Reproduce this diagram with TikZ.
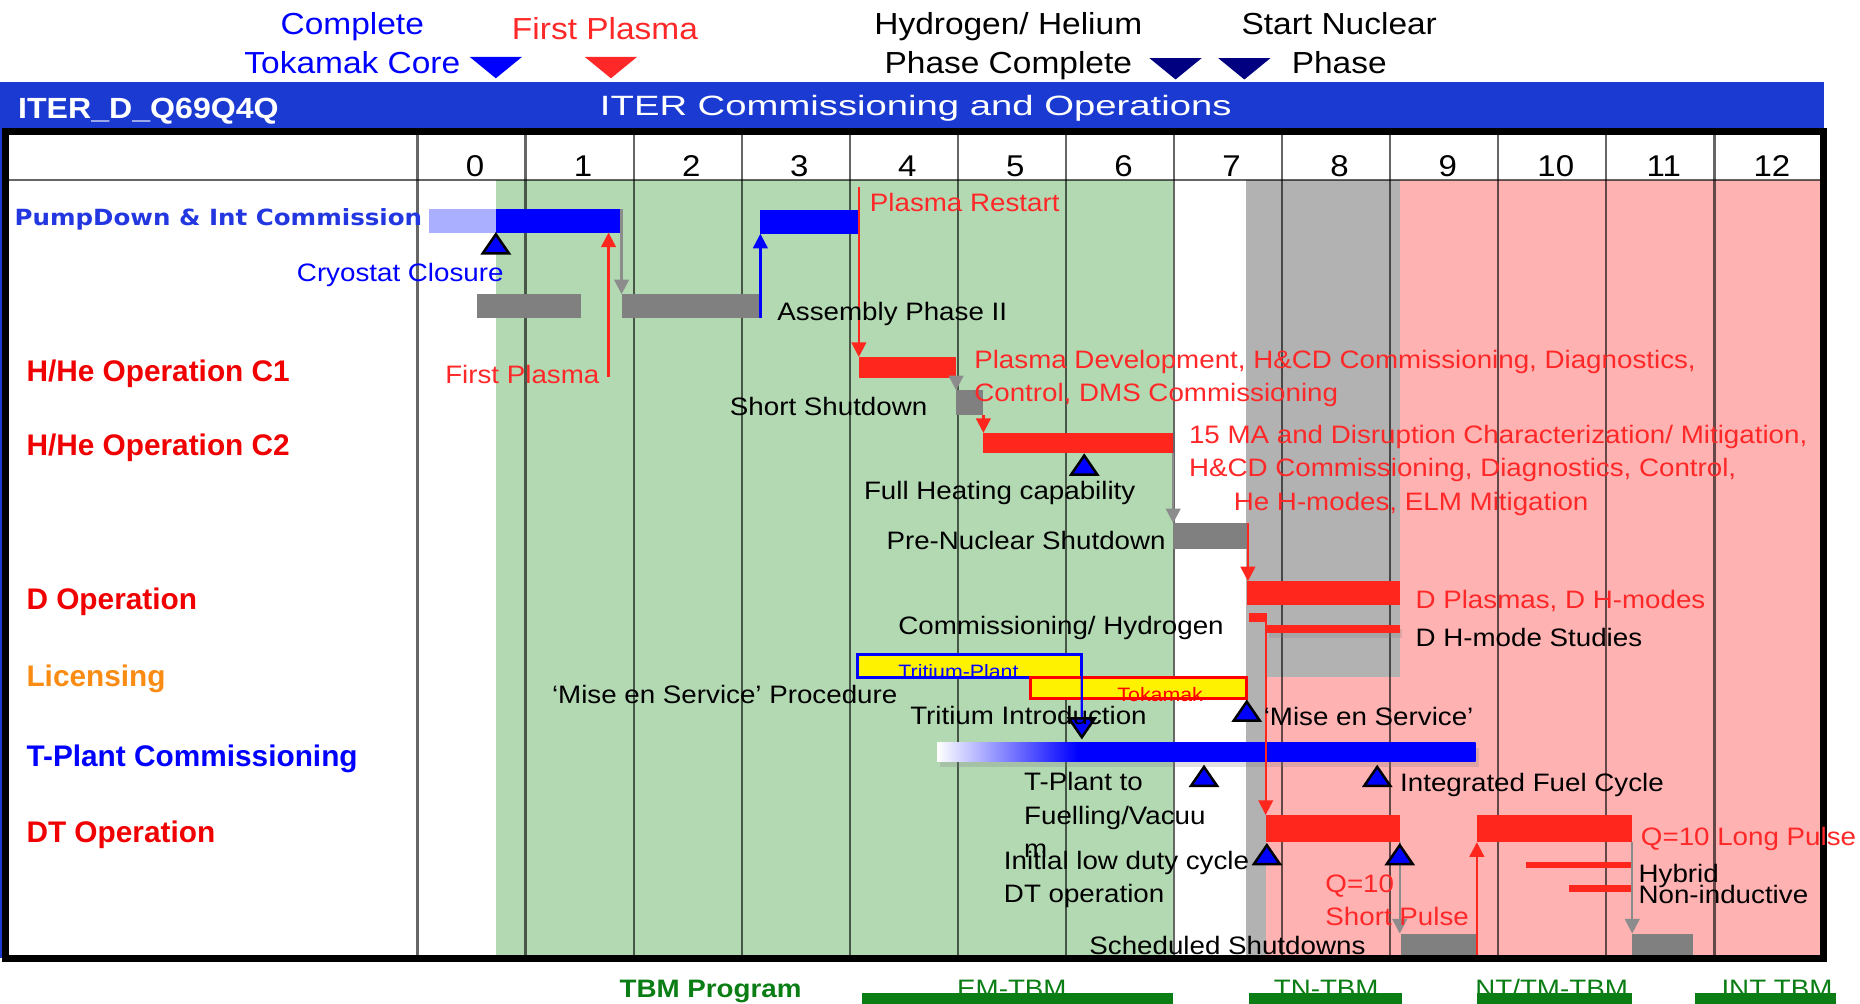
\documentclass[tikz,border=0pt]{standalone}
\usepackage{fontspec}
\setmainfont{Liberation Sans}[FakeStretch=1.1]
\newfontfamily\rowfont{Liberation Sans}
\newfontfamily\widefont{DejaVu Sans}[FakeStretch=1.1]
\newfontfamily\titlefont{Liberation Sans}[FakeStretch=1.37]
\usetikzlibrary{arrows.meta, fit, shadows}

\definecolor{hdrblue}{RGB}{27,58,210}
\definecolor{tblue}{RGB}{0,0,255}
\definecolor{pdblue}{RGB}{35,55,225}
\definecolor{paleblue}{RGB}{170,176,255}
\definecolor{barred}{RGB}{255,38,30}
\definecolor{txtred}{RGB}{255,40,40}
\definecolor{rowred}{RGB}{240,0,0}
\definecolor{licorange}{RGB}{250,140,20}
\definecolor{tbmgreen}{RGB}{10,125,20}
\definecolor{mknavy}{RGB}{0,0,128}
\definecolor{hhgreen}{RGB}{179,217,179}
\definecolor{bggray}{RGB}{178,178,178}
\definecolor{ntpink}{RGB}{255,178,178}
\definecolor{sdgray}{RGB}{128,128,128}
\definecolor{arrgray}{RGB}{140,140,140}

% white-to-blue ramp on the left quarter of the T-plant bar
\pgfdeclarehorizontalshading{tplant}{100bp}{color(0bp)=(white); color(25bp)=(white);
  color(38bp)=(tblue); color(100bp)=(tblue)}

% milestone triangles around a named coordinate
\newcommand{\msup}[1]{%
  \filldraw[mstone] ([shift={(-11,8)}]#1) -- ([shift={(0,-8)}]#1) -- ([shift={(11,8)}]#1) -- cycle;}
\newcommand{\msdown}[1]{%
  \filldraw[mstone] ([shift={(-11,-8)}]#1) -- ([shift={(0,8)}]#1) -- ([shift={(11,-8)}]#1) -- cycle;}
\newcommand{\hdmark}[2]{%
  \fill[#2] ([shift={(-22,-9)}]#1) -- ([shift={(22,-9)}]#1) -- ([shift={(0,9)}]#1) -- cycle;}

\begin{document}
\begin{tikzpicture}[
    x=0.02cm, y=-0.02cm,
    bar/.style={inner sep=0pt, outer sep=0pt, draw=none},
    tbox/.style={inner sep=0pt, outer sep=0pt, fill=yellow, line width=1.3pt},
    lbl/.style={inner sep=0pt, anchor=base west, font=\fontsize{12.1}{16}\selectfont},
    mlbl/.style={inner sep=0pt, anchor=north west, align=left, font=\fontsize{12.1}{16}\selectfont},
    toplbl/.style={inner sep=0pt, align=center, font=\fontsize{14.6}{18.7}\selectfont},
    rowlbl/.style={inner sep=0pt, anchor=base west, font=\rowfont\bfseries\fontsize{14.3}{17}\selectfont},
    tag/.style={inner sep=0pt, anchor=base, font=\fontsize{9.3}{11}\selectfont},
    yr/.style={inner sep=0pt, anchor=base, font=\fontsize{14.4}{17}\selectfont},
    yearline/.style={black, opacity=0.6, line width=1.1pt},
    garr/.style={-{Triangle[length=7pt,width=7pt]}, line width=1.1pt, arrgray},
    rarr/.style={-{Triangle[length=7pt,width=7pt]}, line width=1.1pt, barred},
    barr/.style={-{Triangle[length=7pt,width=7pt]}, line width=1.1pt, tblue},
    mstone/.style={fill=tblue, draw=black, line width=1.2pt},
]
\useasboundingbox (0,0) rectangle (1568,846);

% title band
\fill[hdrblue] (0,69) rectangle (1538,108);
\fill[hdrblue] (0,108) rectangle (2.2,808);
\node[white, inner sep=0pt, anchor=base west, font=\bfseries\fontsize{14}{17}\selectfont]
    (docid) at (15,100) {ITER\_D\_Q69Q4Q};
\node[white, inner sep=0pt, anchor=base, font=\titlefont\fontsize{13.4}{16}\selectfont]
    (ttl) at (772,97) {ITER Commissioning and Operations};

% phase backgrounds
\fill[hhgreen] (418,152) rectangle (989,806);
\fill[bggray] (1050,152) rectangle (1180,571);
\fill[bggray] (1050,571) rectangle (1067,806);
\fill[ntpink] (1180,152) rectangle (1537,571);
\fill[ntpink] (1067,571) rectangle (1537,806);

\draw[yearline, line width=0.8pt] (5,152) -- (1537,152);
\foreach \k in {0,...,12}
    \draw[yearline] ({352+91.1*\k},111) -- ({352+91.1*\k},808);
\draw[line width=3.4pt] (5,111) rectangle (1537,808);

\foreach \k in {0,...,12}
    \node[yr] (yr\k) at ({352+91.1*\k+48.5},149) {\k};

% row labels
\node[rowlbl, font=\widefont\bfseries\fontsize{10.7}{13}\selectfont, pdblue]
    (rPD) at (12,190) {PumpDown \& Int Commission};
\node[rowlbl, rowred] (rC1) at (22,322) {H/He Operation C1};
\node[rowlbl, rowred] (rC2) at (22,384) {H/He Operation C2};
\node[rowlbl, rowred] (rD) at (22,514) {D Operation};
\node[rowlbl, licorange] (rLic) at (22,579) {Licensing};
\node[rowlbl, tblue] (rTP) at (22,646) {T-Plant Commissioning};
\node[rowlbl, rowred] (rDT) at (22,710) {DT Operation};

% bars
\node[bar, fill=paleblue, fit={(362,176) (418,196)}] (pd0) {};
\node[bar, fill=tblue, fit={(418,176) (524,196)}] (pd1) {};
\node[bar, fill=sdgray, fit={(402,248) (490,268)}] (asm1) {};
\node[bar, fill=sdgray, fit={(524,248) (641,268)}] (asm2) {};
\node[bar, fill=tblue, fit={(641,177) (723,197)}] (pd2) {};
\node[bar, fill=barred, fit={(724,301) (806,319)}] (c1) {};
\node[bar, fill=sdgray, fit={(806,329) (829,350)}] (ssd) {};
\node[bar, fill=barred, fit={(829,365) (989,382)}] (c2) {};
\node[bar, fill=sdgray, fit={(989,441) (1052,463)}] (pns) {};
\node[bar, fill=barred, fit={(1051,490) (1180,510)}] (dop) {};
\node[bar, fill=barred, fit={(1053,517) (1067,524)}] (dsq) {};
\node[bar, fill=barred, drop shadow={opacity=0.25, shadow xshift=1pt, shadow yshift=-2pt},
      fit={(1068,527) (1180,534)}] (dhm) {};
\node[tbox, draw=tblue, fit={(723,552) (912,571)}] (tpb) {};
\node[tbox, draw=red, fit={(869,571) (1051,589)}] (tkb) {};
\node[bar, shade, shading=tplant, drop shadow={opacity=0.25, shadow xshift=1.5pt, shadow yshift=-2.5pt},
      fit={(790,626) (1244,642)}] (tpc) {};
\node[bar, fill=barred, fit={(1067,687) (1180,710)}] (dt1) {};
\node[bar, fill=barred, fit={(1245,687) (1376,710)}] (dt2) {};
\node[bar, fill=barred, fit={(1286,727) (1376,732)}] (hyb) {};
\node[bar, fill=barred, fit={(1323,746) (1376,752)}] (nind) {};
\node[bar, fill=sdgray, fit={(1181,787) (1245,805)}] (sch1) {};
\node[bar, fill=sdgray, fit={(1376,787) (1427,805)}] (sch2) {};

% milestones
\coordinate (cryo) at (418,205.5);
\coordinate (fheat) at (914,392);
\coordinate (mes) at (1051,599.5);
\coordinate (tpfv) at (1015,654.5);
\coordinate (ifc) at (1161,654.5);
\coordinate (dtini) at (1068,720.5);
\coordinate (q10) at (1180,720.5);
\coordinate (ti) at (912,613.5);
\coordinate (fpfoot) at (513,318);
\coordinate (prtop) at (724,158);

% hand-offs between phases
\draw[garr] (pd1.north east) -- (pd1.north east |- asm2.north);
\draw[barr] (asm2.south east) -- (asm2.south east |- pd2.south);
\draw[rarr] (fpfoot) -- (fpfoot |- pd1.south);
\draw[rarr] (prtop) -- (c1.north west);
\draw[garr] (c1.south east) -- (c1.south east |- ssd.north);
\draw[rarr] (ssd.south east) -- (ssd.south east |- c2.north);
\draw[garr] (c2.south east) -- (c2.south east |- pns.north);
\draw[rarr] (pns.north east) -- (pns.north east |- dop.north);
\draw[rarr, line width=0.9pt] (dsq.north east) -- (dsq.north east |- dt1.north);
\draw[tblue, line width=1.1pt] (tpb.north east) -- (ti);
\draw[garr] (dt1.south east) -- (dt1.south east |- sch1.north);
\draw[rarr] (sch1.south east) -- (sch1.south east |- dt2.south);
\draw[garr] (dt2.south east) -- (dt2.south east |- sch2.north);

\msup{cryo} \msup{fheat} \msup{mes} \msup{tpfv} \msup{ifc} \msup{dtini} \msup{q10}
\msdown{ti}

% annotations
\node[lbl, tblue] (cryot) at (250,237) {Cryostat Closure};
\node[lbl] (asmt) at (655,270) {Assembly Phase II};
\node[lbl, txtred] (fpl) at (375,323) {First Plasma};
\node[lbl, txtred] (prt) at (733,178) {Plasma Restart};
\node[lbl] (ssdt) at (615,350) {Short Shutdown};
\node[mlbl, txtred] (c1t) at (821,295)
    {Plasma Development, H\&CD Commissioning, Diagnostics,\\Control, DMS Commissioning};
\node[mlbl, txtred] (c2t) at (1002,358)
    {15 MA and Disruption Characterization/ Mitigation,\\H\&CD Commissioning, Diagnostics, Control,\\
     \hspace*{21.5pt}He H-modes, ELM Mitigation};
\node[lbl] (fht) at (728,421) {Full Heating capability};
\node[lbl] (pnst) at (747,463) {Pre-Nuclear Shutdown};
\node[lbl, txtred] (dopt) at (1193,513) {D Plasmas, D H-modes};
\node[lbl] (dhmt) at (1193,545) {D H-mode Studies};
\node[lbl] (cht) at (757,535) {Commissioning/ Hydrogen};
\node[tag, tblue] (tpt) at (808,572) {Tritium-Plant};
\node[tag, red] (tkt) at (978,591) {Tokamak};
\node[lbl] (mesp) at (465,593) {‘Mise en Service’ Procedure};
\node[lbl] (tit) at (767,611) {Tritium Introduction};
\node[lbl] (mest) at (1065,612) {‘Mise en Service’};
\node[mlbl] (tpft) at (863,651) {T-Plant to\\Fuelling/Vacuu\\m};
\node[lbl] (ifct) at (1180,667) {Integrated Fuel Cycle};
\node[lbl, txtred] (lpt) at (1383,713) {Q=10 Long Pulse};
\node[mlbl] (dtit) at (846,717) {Initial low duty cycle\\DT operation};
\node[mlbl, txtred] (spt) at (1117,737) {Q=10\\Short Pulse};
\node[lbl] (hybt) at (1381,744) {Hybrid};
\node[lbl] (nindt) at (1381,762) {Non-inductive};
\node[lbl] (scht) at (918,805) {Scheduled Shutdowns};

% milestones above the chart
\node[toplbl, tblue, anchor=north] (ctc) at (297,10.5) {Complete\\Tokamak Core};
\node[toplbl, txtred, anchor=base] (fpt) at (510,33) {First Plasma};
\node[toplbl, anchor=north] (hhc) at (850,10.5) {Hydrogen/ Helium\\Phase Complete};
\node[toplbl, anchor=north] (snp) at (1129,10.5) {Start Nuclear\\Phase};
\coordinate (ctcm) at (418,57);
\coordinate (fptm) at (515,57);
\coordinate (hhcm) at (991,58);
\coordinate (snpm) at (1049,58);
\hdmark{ctcm}{tblue} \hdmark{fptm}{txtred} \hdmark{hhcm}{mknavy} \hdmark{snpm}{mknavy}

% test blanket modules
\node[inner sep=0pt, anchor=base, font=\bfseries\fontsize{12.1}{15}\selectfont, tbmgreen]
    (tbm) at (599,841) {TBM Program};
\node[lbl, anchor=base, tbmgreen] (emt) at (853,841) {EM-TBM};
\node[lbl, anchor=base, tbmgreen] (tnt) at (1118,841) {TN-TBM};
\node[lbl, anchor=base, tbmgreen] (ntt) at (1308,841) {NT/TM-TBM};
\node[lbl, anchor=base, tbmgreen] (intt) at (1498,841) {INT TBM};
\node[bar, fill=tbmgreen, fit={(727,837) (989,846)}] (emb) {};
\node[bar, fill=tbmgreen, fit={(1053,837) (1182,846)}] (tnb) {};
\node[bar, fill=tbmgreen, fit={(1245,837) (1376,846)}] (ntb) {};
\node[bar, fill=tbmgreen, fit={(1429,837) (1548,846)}] (intb) {};

\end{tikzpicture}
\end{document}
